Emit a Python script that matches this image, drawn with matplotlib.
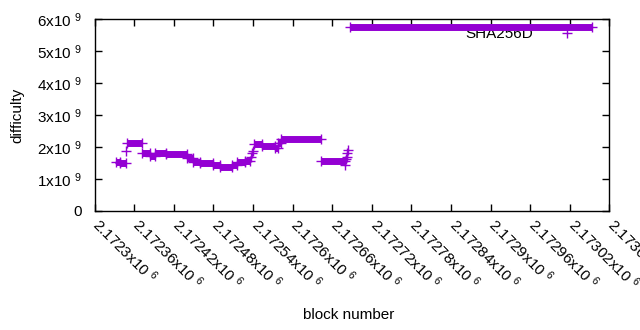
import matplotlib
matplotlib.use("Agg")
import matplotlib.pyplot as plt
import matplotlib.transforms as mtransforms
from matplotlib.lines import Line2D
from matplotlib.ticker import FuncFormatter
import numpy as np

# runs of (roughly) constant difficulty: first block, last block, difficulty
seg_start = [2172332, 2172339, 2172349, 2172372, 2172384, 2172392, 2172408,
             2172440, 2172449, 2172460, 2172480, 2172490, 2172508, 2172516,
             2172528, 2172542, 2172554, 2172573, 2172578, 2172583, 2172643,
             2172687]
seg_end = [2172339, 2172348, 2172372, 2172384, 2172392, 2172408, 2172440,
           2172449, 2172460, 2172480, 2172490, 2172508, 2172516, 2172528,
           2172536, 2172554, 2172573, 2172578, 2172583, 2172643, 2172680,
           2173054]
seg_diff = [1.54e9, 1.50e9, 2.12e9, 1.80e9, 1.73e9, 1.80e9, 1.77e9,
            1.65e9, 1.54e9, 1.49e9, 1.44e9, 1.38e9, 1.44e9, 1.54e9,
            1.57e9, 2.08e9, 2.03e9, 1.97e9, 2.13e9, 2.24e9, 1.57e9,
            5.76e9]

# isolated blocks
pt_block = [2172348, 2172537, 2172539, 2172540, 2172679, 2172681, 2172682,
            2172683, 2172684]
pt_diff = [1.88e9, 1.70e9, 1.80e9, 1.88e9, 1.44e9, 1.62e9, 1.70e9,
           1.80e9, 1.90e9]

xticks = np.arange(2172300, 2173081, 60)
yticks = [0, 1e9, 2e9, 3e9, 4e9, 5e9, 6e9]

purple = "#9400d3"

plt.rcParams['font.family'] = ['Liberation Sans', 'DejaVu Sans']
plt.rcParams['mathtext.default'] = 'regular'
plt.rcParams['font.size'] = 11

fig = plt.figure(figsize=(6.4, 3.3), dpi=100)
ax = fig.add_axes([94.5 / 640, 1 - 211 / 330, (609.3 - 94.5) / 640, (211 - 19) / 330])

for s, e, v in zip(seg_start, seg_end, seg_diff):
    ax.plot([s, e], [v, v], color=purple, lw=5, solid_capstyle='butt',
            marker='+', ms=7, mew=1, zorder=3)
ax.plot(pt_block, pt_diff, ls='none', color=purple, marker='+', ms=7, mew=1, zorder=3)

ax.set_xlim(2172300, 2173080)
ax.set_ylim(0, 6e9)
ax.set_xticks(xticks)
ax.set_yticks(yticks)


def xfmt(v, pos):
    return '{:g}x10 $^{{6}}$'.format(round(v / 1e6, 6))


def yfmt(v, pos):
    if v == 0:
        return '0'
    return '{:g}x10 $^{{9}}$'.format(v / 1e9)


ax.xaxis.set_major_formatter(FuncFormatter(xfmt))
ax.yaxis.set_major_formatter(FuncFormatter(yfmt))
ax.tick_params(direction='in', length=5, width=1, top=True, right=True, color='black')
ax.tick_params(axis='y', pad=9)
ax.tick_params(axis='x', pad=10.5)
shift = mtransforms.ScaledTranslation(-3 / 100, 0, fig.dpi_scale_trans)
for lab in ax.get_xticklabels():
    lab.set_rotation(-45)
    lab.set_ha('left')
    lab.set_va('baseline')
    lab.set_rotation_mode('anchor')
    lab.set_transform(lab.get_transform() + shift)
for sp in ax.spines.values():
    sp.set_linewidth(1)

fig.text(349 / 640, 1 - 315 / 330, 'block number', ha='center', va='center')
fig.text(17 / 640, 1 - 115 / 330, 'difficulty', ha='center', va='center', rotation=90)

key = Line2D([], [], ls='none', color=purple, marker='+', ms=7, mew=1)
leg = ax.legend([key], ['SHA256D'], loc='upper right', frameon=False,
                markerfirst=False, handlelength=3.45, handletextpad=0.5,
                borderpad=0, borderaxespad=0,
                bbox_to_anchor=(593 / 640, 1 - 27 / 330),
                bbox_transform=fig.transFigure)
leg.set_zorder(1)

fig.savefig('out.png', dpi=100)
